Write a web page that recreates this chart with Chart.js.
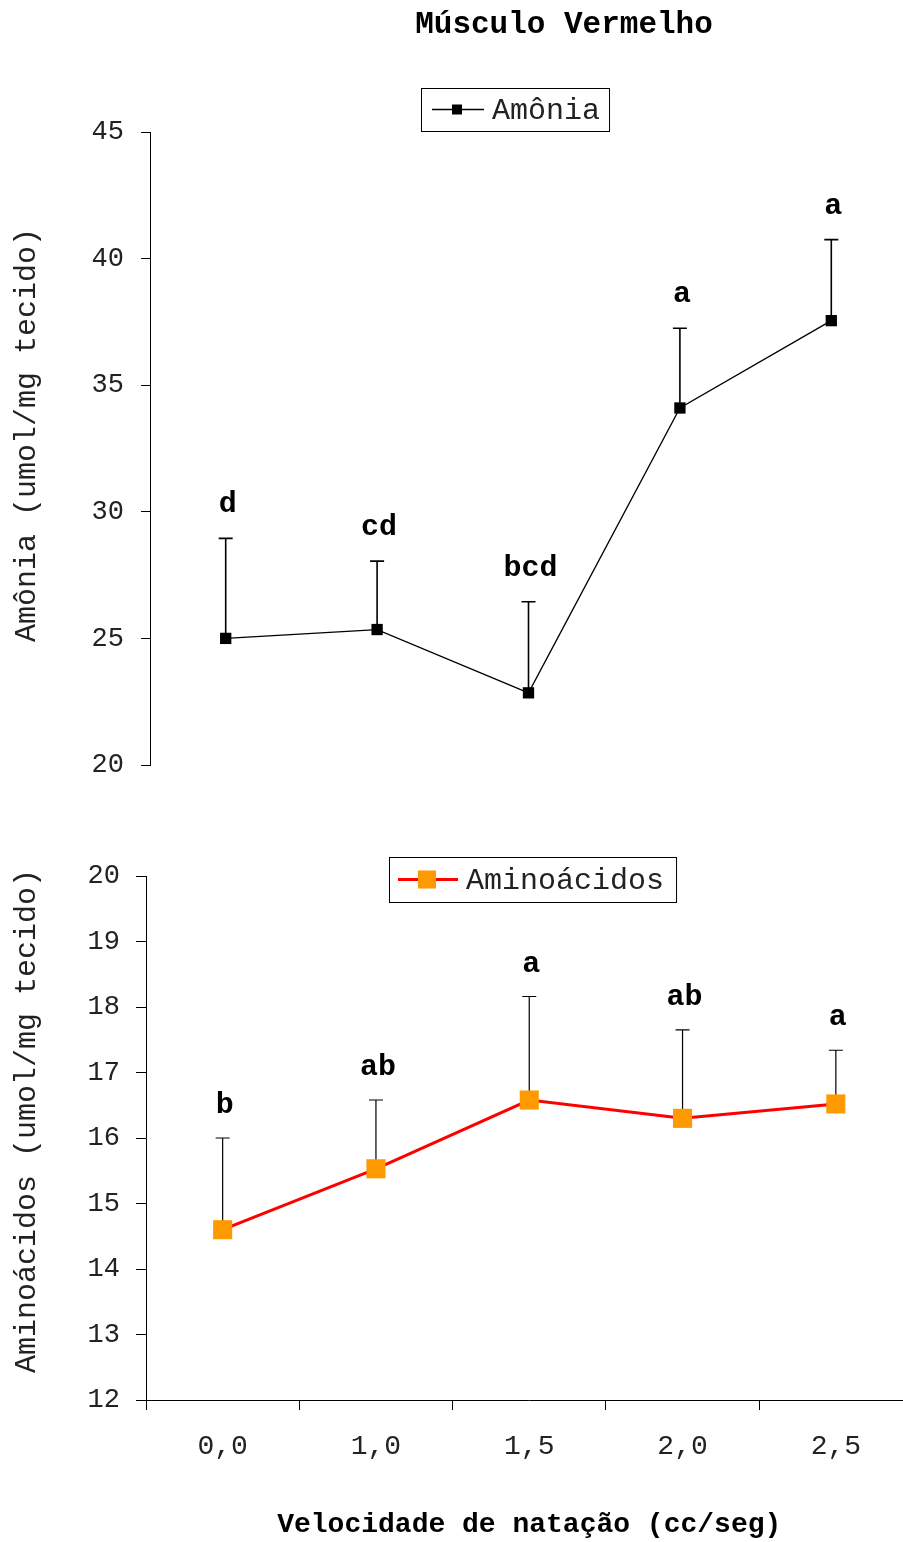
<!DOCTYPE html>
<html>
<head>
<meta charset="utf-8">
<title>Músculo Vermelho</title>
<script src="https://cdn.jsdelivr.net/npm/chart.js@4"></script>
<style>
  html, body { margin: 0; padding: 0; background: #fff; overflow: hidden; }
  #page { position: relative; width: 903px; height: 1542px; overflow: hidden; background: #fff; }
  #page canvas { position: absolute; left: 0; }
  #chart1 { top: 0; }
  #chart2 { top: 800px; }
</style>
</head>
<body>
<div id="page">
  <canvas id="chart1" width="920" height="800"></canvas>
  <canvas id="chart2" width="926" height="742"></canvas>
</div>
<script>
// DATA
// -----------------------------------------------------------------------------
var velocidades = ['0,0', '1,0', '1,5', '2,0', '2,5'];

var amonia = [25.0, 25.35, 22.85, 34.1, 37.55];
var amoniaErro = [3.95, 2.7, 3.6, 3.15, 3.2];
var amoniaLetras = ['d', 'cd', 'bcd', 'a', 'a'];

var aminoacidos = [14.6, 15.53, 16.58, 16.3, 16.52];
var aminoacidosErro = [1.4, 1.05, 1.58, 1.35, 0.82];
var aminoacidosLetras = ['b', 'ab', 'a', 'ab', 'a'];

var FONT = "'Liberation Mono', 'Courier New', monospace";

// PLUGIN: error bars, letters, boxed legend, free texts
// -----------------------------------------------------------------------------
function makeExtras(cfg) {
    return {
        id: 'extras',
        beforeDatasetsDraw: function(chart) {
            var ctx = chart.ctx;
            var y = chart.scales.y;
            var meta = chart.getDatasetMeta(0);
            var values = chart.data.datasets[0].data;
            ctx.save();
            ctx.strokeStyle = '#000';
            ctx.lineWidth = cfg.errWidth;
            meta.data.forEach(function(pt, i) {
                var top = y.getPixelForValue(values[i] + cfg.errors[i]);
                ctx.beginPath();
                ctx.moveTo(pt.x, pt.y);
                ctx.lineTo(pt.x, top);
                ctx.moveTo(pt.x - cfg.cap / 2, top);
                ctx.lineTo(pt.x + cfg.cap / 2, top);
                ctx.stroke();
            });
            ctx.restore();
        },
        afterDatasetsDraw: function(chart) {
            var ctx = chart.ctx;
            var y = chart.scales.y;
            var meta = chart.getDatasetMeta(0);
            var ds = chart.data.datasets[0];

            // significance letters
            ctx.save();
            ctx.fillStyle = '#000';
            ctx.font = 'bold 30px ' + FONT;
            ctx.textAlign = 'center';
            ctx.textBaseline = 'alphabetic';
            meta.data.forEach(function(pt, i) {
                var top = y.getPixelForValue(ds.data[i] + cfg.errors[i]);
                ctx.fillText(cfg.letters[i], pt.x + 2, top - cfg.letterGap);
            });
            ctx.restore();

            // legend box
            var lg = cfg.legend;
            ctx.save();
            ctx.font = '30px ' + FONT;
            var tw = ctx.measureText(ds.label).width;
            var w = lg.textX + tw + lg.padRight;
            var cy = lg.top + lg.height / 2;
            ctx.strokeStyle = '#000';
            ctx.lineWidth = 1;
            ctx.strokeRect(lg.left + 0.5, lg.top + 0.5, w, lg.height);
            ctx.strokeStyle = ds.borderColor;
            ctx.lineWidth = ds.borderWidth;
            ctx.beginPath();
            ctx.moveTo(lg.left + lg.lineFrom, cy);
            ctx.lineTo(lg.left + lg.lineTo, cy);
            ctx.stroke();
            ctx.fillStyle = ds.pointBackgroundColor;
            var m = lg.marker;
            ctx.fillRect(lg.left + lg.markerX - m / 2, cy - m / 2, m, m);
            ctx.fillStyle = '#222';
            ctx.textAlign = 'left';
            ctx.textBaseline = 'middle';
            ctx.fillText(ds.label, lg.left + lg.textX, cy + 2);
            ctx.restore();

            // free texts (chart title, rotated axis title)
            cfg.texts.forEach(function(t) {
                ctx.save();
                ctx.fillStyle = t.color || '#222';
                ctx.font = t.font;
                ctx.textAlign = 'center';
                ctx.textBaseline = 'middle';
                ctx.translate(t.x, t.y);
                if (t.rotate) ctx.rotate(t.rotate);
                ctx.fillText(t.text, 0, 0);
                ctx.restore();
            });
        }
    };
}

// TOP CHART: Amônia
// -----------------------------------------------------------------------------
var chart1 = new Chart(document.getElementById('chart1'), {
    type: 'line',
    data: {
        labels: velocidades,
        datasets: [{
            label: 'Amônia',
            data: amonia,
            borderColor: '#000',
            borderWidth: 1.3,
            pointStyle: 'rect',
            pointRadius: 8,
            pointBorderWidth: 0,
            pointBackgroundColor: '#000',
            tension: 0,
            clip: false
        }]
    },
    options: {
        responsive: false,
        animation: false,
        events: [],
        layout: { padding: { top: 132, bottom: 35, left: 0, right: 13 } },
        plugins: {
            legend: { display: false },
            tooltip: { enabled: false }
        },
        scales: {
            x: { type: 'category', offset: true, display: false },
            y: {
                min: 20,
                max: 45,
                ticks: { stepSize: 5, padding: 17, color: '#222', font: { family: FONT, size: 27 } },
                grid: { drawOnChartArea: false, tickLength: 9, color: '#000' },
                border: { color: '#000', width: 1 },
                afterFit: function(s) { s.width = 150; }
            }
        }
    },
    plugins: [makeExtras({
        errors: amoniaErro,
        letters: amoniaLetras,
        errWidth: 1.6,
        cap: 14,
        letterGap: 26,
        legend: { left: 421, top: 88, height: 43, lineFrom: 11, lineTo: 63, markerX: 36, marker: 10, textX: 71, padRight: 9 },
        texts: [
            { text: 'Músculo Vermelho', x: 564, y: 25, font: 'bold 31px ' + FONT, color: '#000' },
            { text: 'Amônia (umol/mg tecido)', x: 27, y: 435, font: '30px ' + FONT, rotate: -Math.PI / 2 }
        ]
    })]
});

// BOTTOM CHART: Aminoácidos
// -----------------------------------------------------------------------------
var chart2 = new Chart(document.getElementById('chart2'), {
    type: 'line',
    data: {
        labels: velocidades,
        datasets: [{
            label: 'Aminoácidos',
            data: aminoacidos,
            borderColor: '#FF0000',
            borderWidth: 3,
            pointStyle: 'rect',
            pointRadius: 13.5,
            pointBorderWidth: 0,
            pointBackgroundColor: '#FF9900',
            tension: 0,
            clip: false
        }]
    },
    options: {
        responsive: false,
        animation: false,
        events: [],
        // large markers force ~14px min padding on the right
        layout: { padding: { top: 76, bottom: 0, left: 0, right: 8 } },
        plugins: {
            legend: { display: false },
            tooltip: { enabled: false }
        },
        scales: {
            x: {
                type: 'category',
                offset: true,
                ticks: { padding: 20, color: '#222', font: { family: FONT, size: 28 } },
                grid: { drawOnChartArea: false, tickLength: 10, color: '#000', offset: true },
                border: { color: '#000', width: 1 },
                title: {
                    display: true,
                    text: 'Velocidade de natação (cc/seg)',
                    color: '#000',
                    font: { family: FONT, size: 28, weight: 'bold' },
                    padding: { top: 0, bottom: 0 }
                },
                afterFit: function(s) {
                    s.height = 142;
                    s.paddingLeft = 0;
                    s.paddingRight = 0;
                }
            },
            y: {
                min: 12,
                max: 20,
                ticks: { stepSize: 1, padding: 16, color: '#222', font: { family: FONT, size: 27 } },
                grid: { drawOnChartArea: false, tickLength: 10, color: '#000' },
                border: { color: '#000', width: 1 },
                afterFit: function(s) { s.width = 146; }
            }
        }
    },
    plugins: [makeExtras({
        errors: aminoacidosErro,
        letters: aminoacidosLetras,
        errWidth: 1.2,
        cap: 14,
        letterGap: 25,
        legend: { left: 389, top: 57, height: 45, lineFrom: 9, lineTo: 69, markerX: 38, marker: 18, textX: 77, padRight: 12 },
        texts: [
            { text: 'Aminoácidos (umol/mg tecido)', x: 27, y: 321, font: '30px ' + FONT, rotate: -Math.PI / 2 }
        ]
    })]
});
</script>
</body>
</html>
